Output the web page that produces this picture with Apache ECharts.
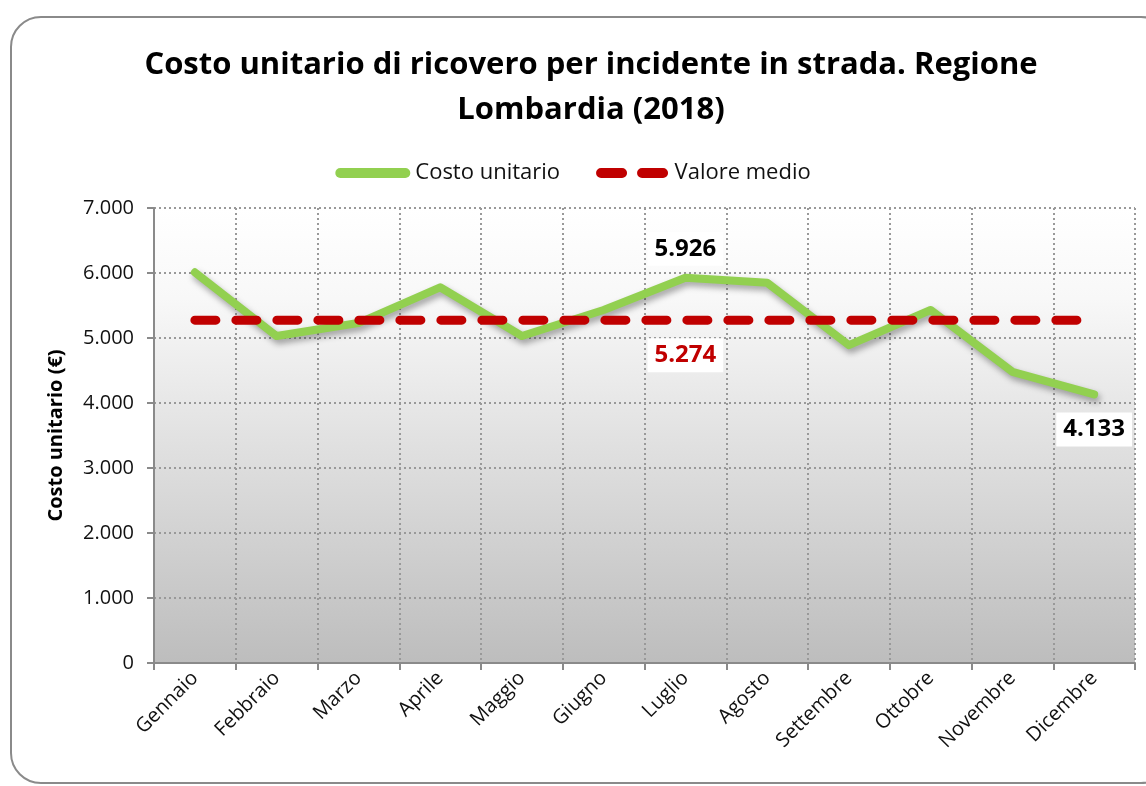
<!DOCTYPE html>
<html>
<head>
<meta charset="utf-8">
<script src="https://cdn.jsdelivr.net/npm/echarts@6/dist/echarts.min.js"></script>
<style>
  html, body { margin: 0; padding: 0; background: #fff; }
  #chart { width: 1146px; height: 786px; }
</style>
</head>
<body>
<div id="chart"></div>
<script>
const months = ['Gennaio', 'Febbraio', 'Marzo', 'Aprile', 'Maggio', 'Giugno',
  'Luglio', 'Agosto', 'Settembre', 'Ottobre', 'Novembre', 'Dicembre'];
const costoUnitario = [6010, 5030, 5230, 5780, 5030, 5430, 5926, 5850, 4890, 5430, 4480, 4133];
const valoreMedio = [5274, 5274, 5274, 5274, 5274, 5274, 5274, 5274, 5274, 5274, 5274, 5274];
const labelledCost = { 6: 'top', 11: 'bottom' };
const labelledMean = { 6: 'bottom' };

const fmt = v => String(Math.round(v)).replace(/\B(?=(\d{3})+(?!\d))/g, '.');
const font = '"Open Sans", sans-serif';

const chart = echarts.init(document.getElementById('chart'));

const boxLabel = (pos, color) => ({
  show: true,
  position: pos,
  distance: pos === 'top' ? 12 : 18,
  formatter: p => fmt(p.value),
  color: color,
  fontFamily: font,
  fontWeight: 'bold',
  fontSize: 24,
  backgroundColor: '#fff',
  padding: [5, 7, 5, 7]
});

const costData = costoUnitario.map((v, i) =>
  labelledCost[i] ? { value: v, label: boxLabel(labelledCost[i], '#000') } : v);
const meanData = valoreMedio.map((v, i) =>
  labelledMean[i] ? { value: v, label: boxLabel(labelledMean[i], '#c00000') } : v);

// legend samples: solid bar and two rounded dashes
const solidIcon = 'path://M5,0H70A5,5 0 0 1 70,10H5A5,5 0 0 1 5,0Z';
const dashIcon = 'path://M5,0H26A5,5 0 0 1 26,10H5A5,5 0 0 1 5,0Z M46,0H67A5,5 0 0 1 67,10H46A5,5 0 0 1 46,0Z';

chart.setOption({
  animation: false,
  graphic: [{
    type: 'rect',
    shape: { x: 11, y: 17, width: 1160, height: 766, r: 30 },
    style: { fill: 'none', stroke: '#8a8a8a', lineWidth: 2 },
    z: -10
  }],
  title: {
    text: 'Costo unitario di ricovero per incidente in strada. Regione\nLombardia (2018)',
    left: 586,
    textAlign: 'center',
    top: 38,
    textStyle: {
      fontFamily: font,
      fontWeight: 'bold',
      fontSize: 31,
      lineHeight: 45,
      color: '#000'
    }
  },
  legend: {
    top: 157,
    left: 'center',
    itemWidth: 75,
    itemHeight: 10,
    itemGap: 36,
    textStyle: { fontFamily: font, fontSize: 22, color: '#111' },
    data: [
      { name: 'Costo unitario', icon: solidIcon, itemStyle: { color: '#92d050' } },
      { name: 'Valore medio', icon: dashIcon, itemStyle: { color: '#c00000' } }
    ]
  },
  grid: {
    left: 154, right: 11, top: 208, bottom: 123,
    show: true,
    borderWidth: 0,
    backgroundColor: new echarts.graphic.LinearGradient(0, 0, 0, 1, [
      { offset: 0, color: '#ffffff' },
      { offset: 0.2, color: '#f8f8f8' },
      { offset: 1, color: '#bdbdbd' }
    ])
  },
  xAxis: {
    type: 'category',
    data: months,
    boundaryGap: true,
    axisLine: { lineStyle: { color: '#8a8a8a', width: 2 } },
    axisTick: { show: true, length: 7, lineStyle: { color: '#8a8a8a', width: 2 } },
    splitLine: { show: true, lineStyle: { color: '#999', type: [2, 3], width: 2 } },
    axisLabel: {
      rotate: 45,
      fontFamily: font,
      fontSize: 20,
      color: '#111',
      margin: 12
    }
  },
  yAxis: {
    type: 'value',
    min: 0, max: 7000, interval: 1000,
    name: 'Costo unitario (€)',
    nameLocation: 'middle',
    nameGap: 88,
    nameTextStyle: { fontFamily: font, fontWeight: 'bold', fontSize: 20, color: '#000' },
    axisLine: { show: true, lineStyle: { color: '#8a8a8a', width: 2 } },
    axisTick: { show: true, length: 7, lineStyle: { color: '#8a8a8a', width: 2 } },
    splitLine: { show: true, lineStyle: { color: '#999', type: [2, 3], width: 2 } },
    axisLabel: {
      formatter: fmt,
      fontFamily: font,
      fontSize: 20,
      color: '#111',
      margin: 20
    }
  },
  series: [
    {
      name: 'Costo unitario',
      type: 'line',
      data: costData,
      symbol: 'circle',
      symbolSize: 0.1,
      showSymbol: true,
      color: '#92d050',
      lineStyle: {
        width: 8,
        color: '#92d050',
        cap: 'round',
        join: 'round',
        shadowColor: 'rgba(0,0,0,0.35)',
        shadowBlur: 6,
        shadowOffsetX: 2,
        shadowOffsetY: 4
      },
      z: 3
    },
    {
      name: 'Valore medio',
      type: 'line',
      data: meanData,
      symbol: 'circle',
      symbolSize: 0.1,
      showSymbol: true,
      color: '#c00000',
      lineStyle: {
        width: 9,
        color: '#c00000',
        type: [21, 20],
        cap: 'round'
      },
      z: 4
    }
  ]
});
</script>
</body>
</html>
